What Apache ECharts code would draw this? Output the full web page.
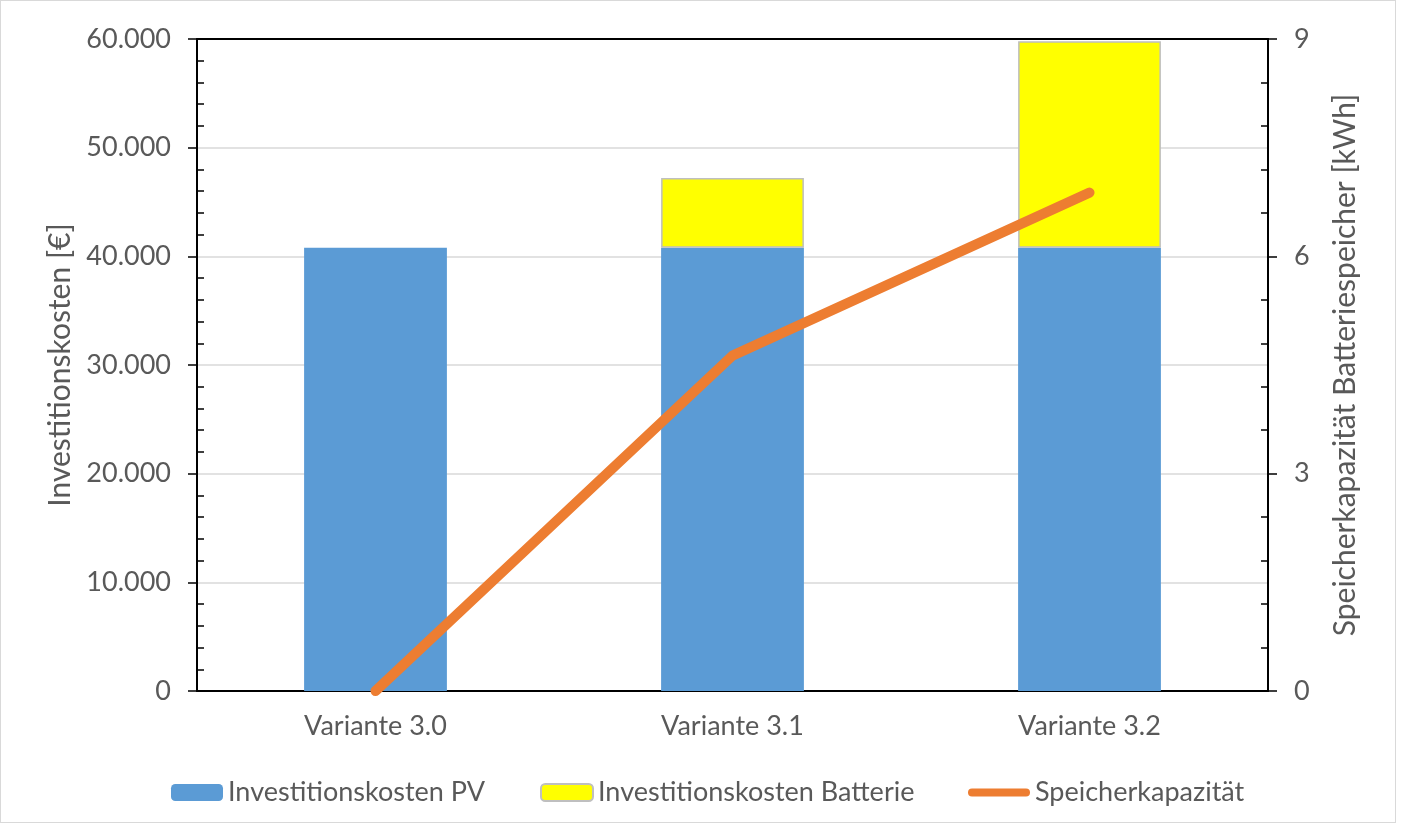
<!DOCTYPE html>
<html>
<head>
<meta charset="utf-8">
<script src="https://cdn.jsdelivr.net/npm/echarts@6/dist/echarts.min.js"></script>
<style>
  html, body { margin: 0; padding: 0; background: #fff; }
  #frame { position: absolute; left: 0; top: 0; width: 1396px; height: 823px; border: 1px solid #d9d9d9; box-sizing: border-box; pointer-events: none; }
  #chart { width: 1402px; height: 825px; }
</style>
</head>
<body>
<div id="chart"></div>
<div id="frame"></div>
<script>
// Investment costs per variant (EUR) and storage capacity (kWh)
const categories = ['Variante 3.0', 'Variante 3.1', 'Variante 3.2'];
const kostenPV = [40800, 40800, 40800];
const kostenBatterie = [0, 6400, 19000];
const speicherKapazitaet = [0, 4.63, 6.88];
const leftTicks = [0, 60000, 10000];
const rightTicks = [0, 9, 3];

const FONT = 'Lato';
const TXT = '#595959';

const fmtThousands = v => v === 0 ? '0' : String(v).replace(/\B(?=(\d{3})+(?!\d))/g, '.');

const chart = echarts.init(document.getElementById('chart'));
const legendBase = {
  top: 774, itemGap: 6,
  textStyle: { fontFamily: FONT, fontSize: 27, color: TXT }
};
chart.setOption({
  animation: false,
  textStyle: { fontFamily: FONT },
  grid: { left: 197, right: 134, top: 39, bottom: 134 },
  legend: [
    Object.assign({}, legendBase, { left: 166, data: [{ name: 'Investitionskosten PV' }], itemWidth: 52, itemHeight: 17 }),
    Object.assign({}, legendBase, { left: 535, data: [{ name: 'Investitionskosten Batterie' }], itemWidth: 52, itemHeight: 17 }),
    Object.assign({}, legendBase, { left: 963, data: [{ name: 'Speicherkapazität', icon: 'path://M4,0 H58 A4,4 0 0 1 58,8 H4 A4,4 0 0 1 4,0 Z', itemStyle: { color: '#ed7d31' } }], itemWidth: 62, itemHeight: 9 })
  ],
  xAxis: [
    {
      type: 'category', data: categories,
      axisLine: { lineStyle: { color: '#000', width: 2 } },
      axisTick: { show: false },
      axisLabel: { fontFamily: FONT, fontSize: 27, color: TXT, margin: 22 }
    },
    {
      // plain top frame line of the plot area
      type: 'category', data: categories, position: 'top', z: 10,
      axisLine: { onZero: false, lineStyle: { color: '#000', width: 2 } },
      axisTick: { show: false }, axisLabel: { show: false }
    }
  ],
  yAxis: [
    {
      type: 'value', min: leftTicks[0], max: leftTicks[1], interval: leftTicks[2],
      name: 'Investitionskosten [€]', nameLocation: 'middle', nameGap: 120, nameRotate: 90,
      nameTextStyle: { fontFamily: FONT, fontSize: 30, color: TXT },
      axisLine: { show: true, lineStyle: { color: '#000', width: 2 } },
      axisTick: { show: true, length: 9, lineStyle: { color: '#000', width: 1.5 } },
      minorTick: { show: true, splitNumber: 5, length: -7, lineStyle: { color: '#000', width: 1.5 } },
      axisLabel: { fontFamily: FONT, fontSize: 27, color: TXT, margin: 26, formatter: fmtThousands },
      splitLine: { lineStyle: { color: '#d9d9d9', width: 1.5 } }
    },
    {
      type: 'value', min: rightTicks[0], max: rightTicks[1], interval: rightTicks[2],
      name: 'Speicherkapazität Batteriespeicher [kWh]', nameLocation: 'middle', nameGap: 62, nameRotate: 90,
      nameTextStyle: { fontFamily: FONT, fontSize: 30, color: TXT },
      axisLine: { show: true, lineStyle: { color: '#000', width: 2 } },
      axisTick: { show: true, length: 9, lineStyle: { color: '#000', width: 1.5 } },
      minorTick: { show: true, splitNumber: 5, length: -7, lineStyle: { color: '#000', width: 1.5 } },
      axisLabel: { fontFamily: FONT, fontSize: 27, color: TXT, margin: 26 },
      splitLine: { show: false }
    }
  ],
  series: [
    {
      name: 'Investitionskosten PV', type: 'bar', stack: 'kosten', barWidth: '40%',
      data: kostenPV, itemStyle: { color: '#5b9bd5' }
    },
    {
      name: 'Investitionskosten Batterie', type: 'bar', stack: 'kosten', barWidth: '40%',
      // a zero amount draws no segment (and no outline)
      data: kostenBatterie.map(v => (v > 0 ? v : '-')),
      itemStyle: { color: '#ffff00', borderColor: '#bfbfbf', borderWidth: 1.5 }
    },
    {
      name: 'Speicherkapazität', type: 'line', yAxisIndex: 1,
      data: speicherKapazitaet, symbol: 'none', z: 5,
      lineStyle: { color: '#ed7d31', width: 10, cap: 'round', join: 'round' },
      itemStyle: { color: '#ed7d31' }
    }
  ]
});
</script>
</body>
</html>
